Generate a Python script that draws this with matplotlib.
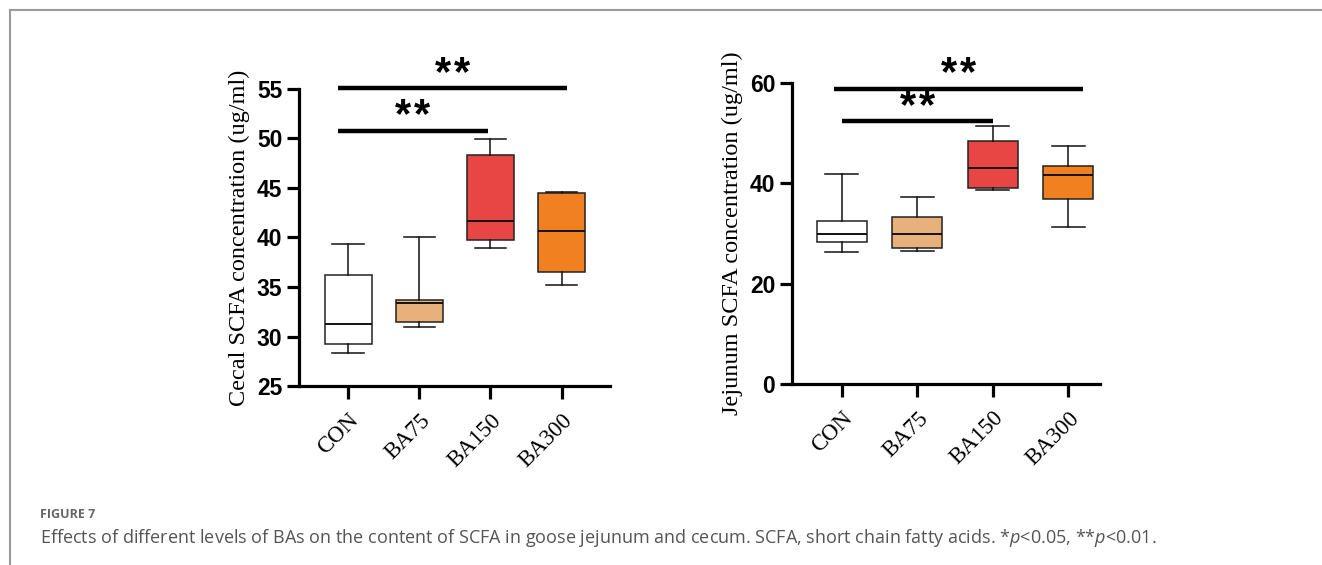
import numpy as np
import matplotlib.pyplot as plt

groups = ['CON', 'BA75', 'BA150', 'BA300']
colors = ['#ffffff', '#e8b07a', '#e84545', '#f08020']

# min, q1, median, q3, max
cecal_min = [28.3, 31.0, 38.9, 35.2]
cecal_q1 = [29.2, 31.5, 39.7, 36.5]
cecal_med = [31.3, 33.4, 41.7, 40.7]
cecal_q3 = [36.2, 33.7, 48.3, 44.5]
cecal_max = [39.3, 40.0, 49.9, 44.6]

jej_min = [26.3, 26.6, 38.7, 31.2]
jej_q1 = [28.4, 27.2, 39.0, 36.9]
jej_med = [29.9, 29.9, 43.0, 41.6]
jej_q3 = [32.4, 33.2, 48.4, 43.5]
jej_max = [41.8, 37.2, 51.5, 47.4]

# significance bars: (x start, x end, y)
cecal_sig = [(0.86, 4.08, 55.1), (0.86, 2.96, 50.8)]
jej_sig = [(0.89, 4.19, 58.9), (1.0, 3.0, 52.5)]

plt.rcParams['mathtext.fontset'] = 'custom'
plt.rcParams['mathtext.rm'] = 'Open Sans'
plt.rcParams['mathtext.it'] = 'Open Sans:italic'

fig = plt.figure(figsize=(13.22, 5.65), dpi=100)


def panel(rect, mins, q1, med, q3, maxs, ylim, yticks, ylabel, sig, xlim):
    ax = fig.add_axes(rect)
    stats = []
    for i in range(len(groups)):
        stats.append(dict(whislo=mins[i], q1=q1[i], med=med[i], q3=q3[i],
                          whishi=maxs[i], fliers=[]))
    bp = ax.bxp(stats, positions=np.arange(1, 5), widths=0.66, patch_artist=True,
                showfliers=False,
                boxprops=dict(linewidth=1.1, edgecolor='#222222'),
                medianprops=dict(color='#111111', linewidth=1.4),
                whiskerprops=dict(color='#111111', linewidth=1.1),
                capprops=dict(color='#111111', linewidth=1.1))
    for patch, c in zip(bp['boxes'], colors):
        patch.set_facecolor(c)
    for cap in bp['caps']:
        x = cap.get_xdata()
        m = x.mean()
        cap.set_xdata([m - 0.22, m + 0.22])
    ax.set_xlim(*xlim)
    ax.set_ylim(*ylim)
    ax.set_yticks(yticks)
    ax.set_xticks(np.arange(1, 5))
    ax.set_xticklabels(groups, rotation=45, ha='right', rotation_mode='anchor',
                       family='Liberation Serif', fontsize=16.5)
    for lab in ax.get_yticklabels():
        lab.set_family('Liberation Sans')
        lab.set_fontweight('bold')
        lab.set_fontsize(16.5)
    ax.tick_params(axis='y', length=9, width=2.3, pad=3)
    ax.tick_params(axis='x', length=9, width=2.3, pad=8)
    for s in ['top', 'right']:
        ax.spines[s].set_visible(False)
    for s in ['left', 'bottom']:
        ax.spines[s].set_linewidth(2.3)
    ax.set_ylabel(ylabel, family='Liberation Serif', fontsize=17.5, labelpad=5)
    for x0, x1, y in sig:
        ax.plot([x0, x1], [y, y], color='black', linewidth=3.2,
                solid_capstyle='butt', clip_on=False)
        # two stars, spaced apart a little
        for dx in (-9.5, 9.5):
            ax.annotate('*', xy=((x0 + x1) / 2, y), xytext=(dx, 3),
                        textcoords='offset pixels', ha='center', va='baseline',
                        fontsize=30, fontweight='bold', family='Liberation Sans',
                        annotation_clip=False)
    return ax


panel([0.2262, 0.3168, 0.2352, 0.5257], cecal_min, cecal_q1, cecal_med, cecal_q3,
      cecal_max, (25, 55), [25, 30, 35, 40, 45, 50, 55],
      'Cecal SCFA concentration (ug/ml)', cecal_sig, (0.31, 4.68))
panel([0.5991, 0.3204, 0.2330, 0.5327], jej_min, jej_q1, jej_med, jej_q3,
      jej_max, (0, 60), [0, 20, 40, 60],
      'Jejunum SCFA concentration (ug/ml)', jej_sig, (0.34, 4.42))

# figure frame lines (left and top)
fig.add_artist(plt.Line2D([9.5 / 1322, 9.5 / 1322], [0, 1 - 10 / 565],
                          color='#9a9a9a', linewidth=1.5))
fig.add_artist(plt.Line2D([9.5 / 1322, 1], [1 - 10 / 565, 1 - 10 / 565],
                          color='#9a9a9a', linewidth=1.5))

fig.text(40 / 1322, 1 - 514 / 565, 'FIGURE 7', fontsize=9, color='#666666',
         family='Open Sans', fontweight='bold', va='center')
fig.text(40 / 1322, 1 - 538 / 565,
         'Effects of different levels of BAs on the content of SCFA in goose jejunum '
         'and cecum. SCFA, short chain fatty acids. *$\\it{p}$<0.05, **$\\it{p}$<0.01.',
         fontsize=13, color='#555555', family='Open Sans', va='center')

fig.savefig('out.png', dpi=100)
